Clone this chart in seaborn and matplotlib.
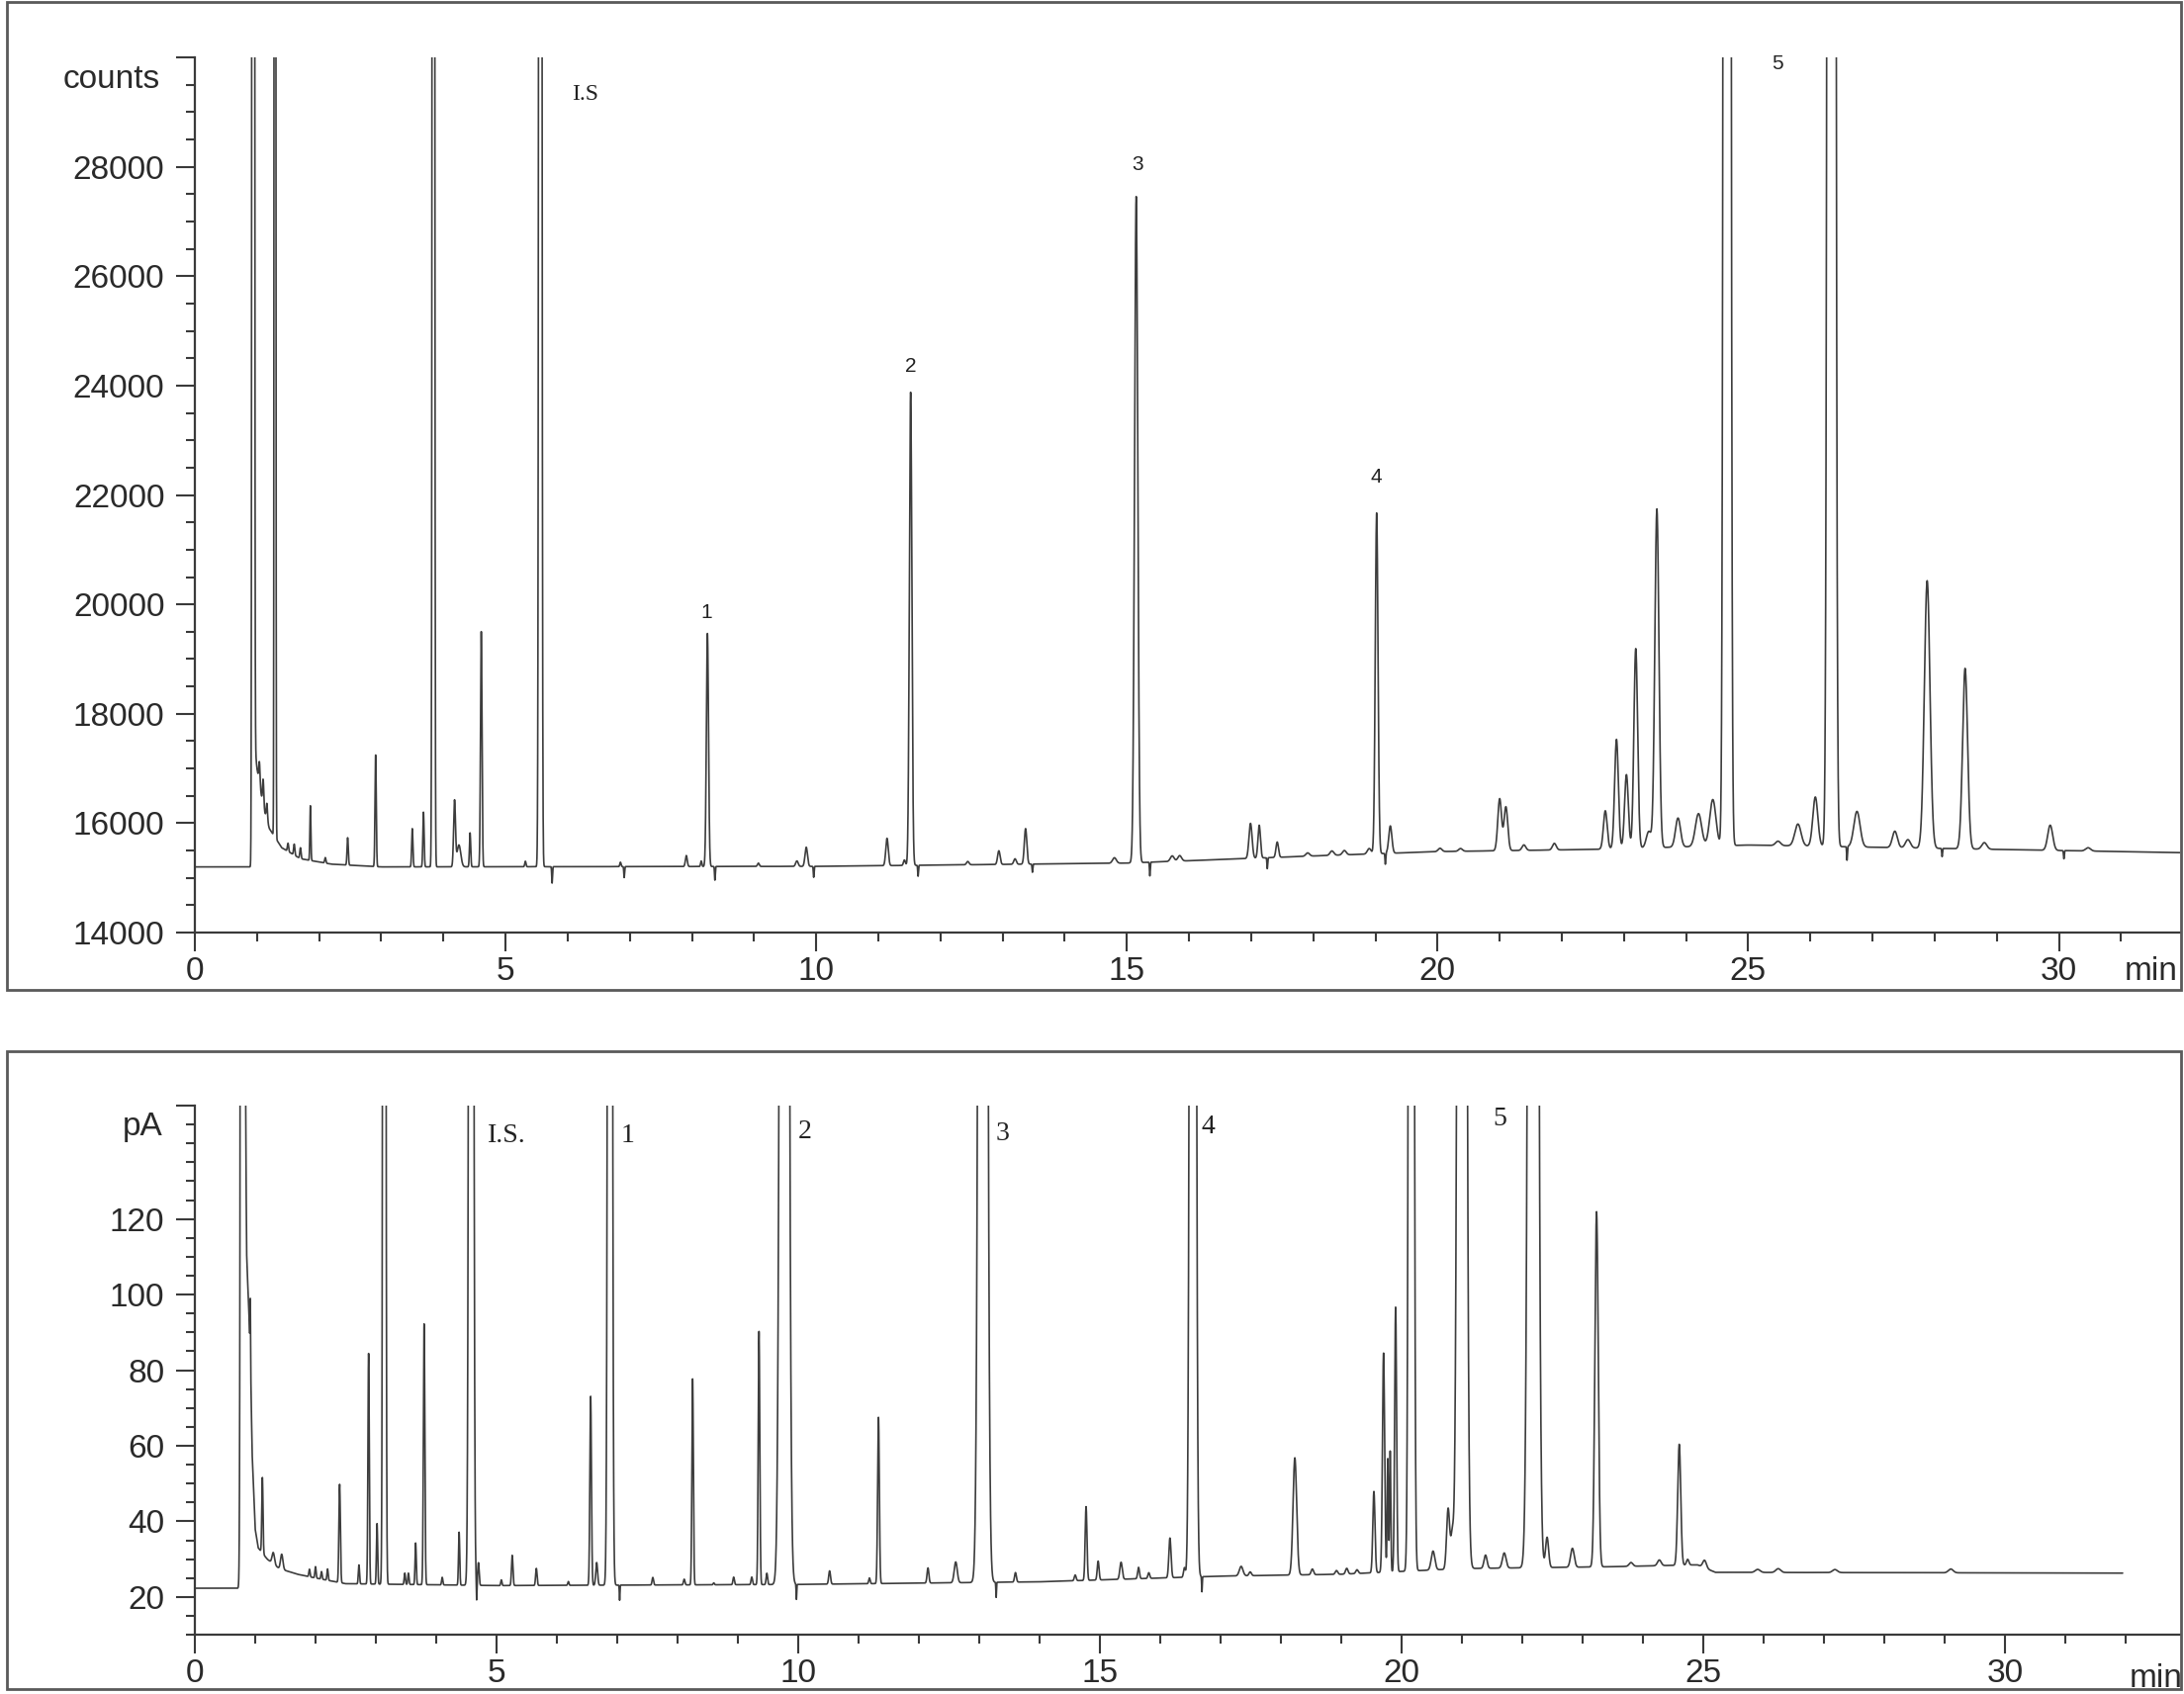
import numpy as np
import pandas as pd
import matplotlib
matplotlib.use("Agg")
import matplotlib.pyplot as plt
import seaborn as sns
from matplotlib.patches import Rectangle
from matplotlib.ticker import MultipleLocator
from matplotlib.transforms import blended_transform_factory

# ---------------- upper chromatogram (counts) ----------------
# baseline knots
top_base_t = [0.0, 0.92, 0.95, 1.0, 1.1, 1.2, 1.4, 1.7, 2.2, 3.0, 10.0, 15.0,
              18.0, 20.0, 22.5, 25.0, 27.0, 30.0, 32.0]
top_base_y = [15200, 15200, 17600, 17000, 16300, 15900, 15550, 15350, 15250,
              15200, 15210, 15270, 15400, 15480, 15520, 15600, 15560, 15500, 15460]

# peaks: retention time (min), height above baseline, width (sigma, min)
top_peak_t = [0.94, 1.04, 1.10, 1.16, 1.29, 1.50, 1.60, 1.70, 1.86, 2.10, 2.46,
              2.91, 3.50, 3.68, 3.84, 4.18, 4.25, 4.43, 4.61, 5.32, 5.56, 5.75,
              6.85, 6.91, 7.91, 8.15, 8.25, 8.37, 9.07, 9.69, 9.84, 9.96, 11.14,
              11.42, 11.52, 11.64, 12.44, 12.94, 13.20, 13.37, 13.48, 14.80,
              15.15, 15.37, 15.73, 15.85, 16.99, 17.13, 17.26, 17.42, 17.91,
              18.30, 18.50, 18.90, 19.02, 19.16, 19.24, 20.04, 20.37, 21.00,
              21.10, 21.39, 21.88, 22.70, 22.88, 23.04, 23.19, 23.40, 23.53,
              23.87, 24.20, 24.43, 24.66, 25.48, 25.80, 26.08, 26.34, 26.59,
              26.75, 27.36, 27.57, 27.88, 28.12, 28.49, 28.80, 29.86, 30.08, 30.47]
top_peak_h = [200000, 400, 500, 300, 100000, 150, 200, 200, 1000, 100, 500,
              2040, 700, 1000, 100000, 1200, 400, 620, 4300, 100, 100000, -300,
              80, -200, 200, 100, 4260, -250, 60, 100, 350, -200, 500,
              100, 8650, -200, 60, 250, 100, 650, -150, 100,
              12180, -250, 100, 100, 640, 600, -200, 280, 60,
              80, 80, 100, 6230, -200, 500, 60, 50, 950,
              800, 100, 120, 700, 2000, 1350, 3650, 300, 6190,
              530, 600, 850, 200000, 80, 400, 900, 200000, -250,
              650, 300, 150, 4890, -150, 3300, 120, 460, -150, 60]
top_peak_w = [0.011, 0.01, 0.01, 0.01, 0.008, 0.01, 0.01, 0.01, 0.008, 0.01, 0.01,
              0.01, 0.01, 0.01, 0.012, 0.015, 0.03, 0.01, 0.012, 0.01, 0.015, 0.006,
              0.01, 0.006, 0.015, 0.01, 0.017, 0.006, 0.015, 0.02, 0.02, 0.006, 0.02,
              0.015, 0.02, 0.006, 0.02, 0.02, 0.02, 0.02, 0.006, 0.03,
              0.026, 0.006, 0.03, 0.03, 0.025, 0.02, 0.006, 0.02, 0.03,
              0.03, 0.03, 0.03, 0.022, 0.006, 0.025, 0.03, 0.03, 0.03,
              0.03, 0.03, 0.03, 0.03, 0.03, 0.03, 0.03, 0.04, 0.033,
              0.04, 0.05, 0.05, 0.03, 0.04, 0.05, 0.04, 0.034, 0.006,
              0.05, 0.04, 0.04, 0.045, 0.006, 0.04, 0.04, 0.04, 0.006, 0.04]

top_labels = ["I.S", "1", "2", "3", "4", "5"]
top_label_t = [6.28, 8.23, 11.52, 15.18, 19.01, 25.47]
top_label_y = [29318, 19852, 24356, 28046, 22320, 29878]

# ---------------- lower chromatogram (pA) ----------------
bot_base_t = [0.0, 0.80, 0.83, 0.86, 0.92, 0.95, 1.0, 1.05, 1.2, 1.4, 1.7, 2.0,
              2.5, 5.0, 10.0, 14.0, 17.0, 19.0, 21.0, 23.5, 24.9, 25.2, 31.95]
bot_base_y = [22.3, 22.3, 160, 110, 85, 58, 38, 33, 30, 27.5, 26, 25,
              23.5, 23, 23.3, 24, 25.5, 26, 27.5, 28, 28.5, 26.5, 26.3]

bot_peak_t = [0.79, 0.92, 1.12, 1.30, 1.44, 1.90, 2.00, 2.10, 2.20, 2.40,
              2.72, 2.88, 3.02, 3.14, 3.48, 3.54, 3.66, 3.80, 4.10, 4.38, 4.58,
              4.67, 4.70, 5.08, 5.26, 5.66, 6.19, 6.56, 6.66, 6.88, 7.04, 7.59,
              8.11, 8.25, 8.60, 8.93, 9.23, 9.35, 9.48, 9.77, 9.97, 10.52, 11.18,
              11.33, 12.15, 12.61, 13.06, 13.28, 13.60, 14.59, 14.77, 14.97,
              15.35, 15.64, 15.81, 16.16, 16.40, 16.54, 16.69, 17.34, 17.49,
              18.23, 18.52, 18.92, 19.09, 19.26, 19.54, 19.70, 19.77, 19.81,
              19.90, 20.16, 20.52, 20.77, 20.84, 21.00, 21.39, 21.70, 22.18,
              22.41, 22.83, 23.23, 23.80, 24.27, 24.60, 24.74, 25.02, 25.90,
              26.24, 27.18, 29.10]
bot_peak_h = [2000, 14, 20, 3, 4, 2, 3, 2, 3, 26,
              5, 61, 16, 1000, 3, 3, 11, 69, 2, 14, 1000,
              -5, 6, 1.5, 8, 4.5, 1, 50, 6, 1000, -4, 2,
              1.5, 54.5, 0.5, 2, 2, 67, 3, 1000, -4, 3.5, 1.5,
              44, 4, 5.5, 1000, -4, 2.5, 1.5, 19.5, 5,
              4.5, 3, 1.5, 10.5, 2.5, 1000, -4, 2.5, 1,
              31, 1.5, 1, 1.5, 1, 21.5, 58, 30, 32,
              70, 1000, 5, 16, 9, 1000, 3.5, 4, 1000,
              8, 5, 94, 1, 1.5, 32, 1.5, 2, 0.8,
              1, 0.8, 1]
bot_peak_w = [0.017, 0.004, 0.01, 0.02, 0.02, 0.01, 0.01, 0.01, 0.01, 0.012,
              0.01, 0.011, 0.01, 0.0155, 0.01, 0.01, 0.01, 0.012, 0.01, 0.01, 0.024,
              0.005, 0.012, 0.01, 0.012, 0.012, 0.01, 0.013, 0.015, 0.023, 0.005, 0.012,
              0.012, 0.012, 0.01, 0.012, 0.012, 0.013, 0.012, 0.045, 0.005, 0.015, 0.012,
              0.014, 0.015, 0.025, 0.045, 0.005, 0.015, 0.015, 0.015, 0.015,
              0.02, 0.015, 0.015, 0.018, 0.015, 0.032, 0.005, 0.03, 0.02,
              0.03, 0.02, 0.02, 0.02, 0.02, 0.018, 0.018, 0.01, 0.01,
              0.016, 0.027, 0.03, 0.025, 0.025, 0.045, 0.025, 0.03, 0.05,
              0.025, 0.03, 0.028, 0.03, 0.03, 0.025, 0.02, 0.03, 0.04,
              0.04, 0.04, 0.04]

bot_labels = ["I.S.", "1", "2", "3", "4", "5"]
bot_label_t = [5.17, 7.18, 10.11, 13.39, 16.80, 21.62]
bot_label_y = [142.1, 142.1, 143.2, 142.5, 144.4, 146.6]


def build_trace(t_end, base_t, base_y, peak_t, peak_h, peak_w):
    """Sum the listed peaks on top of the baseline knots."""
    t = np.arange(0.0, t_end, 0.002)
    y = np.interp(t, base_t, base_y)
    for c, h, w in zip(peak_t, peak_h, peak_w):
        y = y + h * np.exp(-0.5 * ((t - c) / w) ** 2)
    return pd.DataFrame({"time": t, "signal": y})


def style_axes(ax, line_col):
    sns.despine(ax=ax)
    for side in ["left", "bottom"]:
        ax.spines[side].set_linewidth(1.6)
        ax.spines[side].set_color(line_col)
    ax.xaxis.set_major_locator(MultipleLocator(5))
    ax.xaxis.set_minor_locator(MultipleLocator(1))
    ax.tick_params(which="major", length=14, width=1.5, colors=line_col,
                   labelsize=24, labelcolor="#2a2a2a")
    ax.tick_params(which="minor", length=6.5, width=1.5, colors=line_col)
    ax.tick_params(axis="x", which="major", pad=3)
    ax.tick_params(axis="y", which="major", pad=8)
    ax.set_xlabel("")
    ax.set_ylabel("")
    ax.set_facecolor("white")


sns.set_style("ticks")
plt.rcParams["font.family"] = ["Liberation Sans", "DejaVu Sans"]

trace_col = "#3d3d3d"
axis_col = "#3a3a3a"
serif = ["Liberation Serif", "DejaVu Serif"]

fig = plt.figure(figsize=(22.08, 17.13), dpi=100)
fig.patch.set_facecolor("white")

# scanned-page frames around each chromatogram
fig.patches.append(Rectangle((0.0032, 0.4156), 0.9955, 0.5832, transform=fig.transFigure,
                             fill=False, edgecolor="#5a5a5a", linewidth=2.0))
fig.patches.append(Rectangle((0.0032, 0.0029), 0.9955, 0.3765, transform=fig.transFigure,
                             fill=False, edgecolor="#5a5a5a", linewidth=2.0))

# ---- top panel ----
ax1 = fig.add_axes([0.0892, 0.4495, 0.909, 0.5166])
top_df = build_trace(32.0, top_base_t, top_base_y, top_peak_t, top_peak_h, top_peak_w)
sns.lineplot(data=top_df, x="time", y="signal", ax=ax1, color=trace_col,
             linewidth=1.2, estimator=None, sort=False)
ax1.set_xlim(0, 31.95)
ax1.set_ylim(14000, 30000)
style_axes(ax1, axis_col)
ax1.set_yticks(list(range(14000, 30001, 2000)))
ax1.set_yticklabels([str(v) for v in range(14000, 30000, 2000)] + [""])
ax1.yaxis.set_minor_locator(MultipleLocator(500))
trans1 = blended_transform_factory(ax1.transAxes, ax1.transData)
ax1.text(-0.0175, 29600, "counts", transform=trans1, ha="right", va="center",
         fontsize=24, color="#2a2a2a")
for lab, lt, ly in zip(top_labels, top_label_t, top_label_y):
    if lab == "I.S":
        ax1.text(lt, ly, lab, ha="center", va="center", fontsize=17,
                 family=serif, color="#222222")
    else:
        ax1.text(lt, ly, lab, ha="center", va="center", fontsize=15, color="#222222")
fig.text(2175 / 2208, 1 - 983 / 1713, "min", ha="center", va="center",
         fontsize=24, color="#2a2a2a")

# ---- bottom panel ----
ax2 = fig.add_axes([0.0892, 0.035, 0.909, 0.3123])
bot_df = build_trace(31.95, bot_base_t, bot_base_y, bot_peak_t, bot_peak_h, bot_peak_w)
sns.lineplot(data=bot_df, x="time", y="signal", ax=ax2, color=trace_col,
             linewidth=1.2, estimator=None, sort=False)
ax2.set_xlim(0, 32.9)
ax2.set_ylim(10, 150)
style_axes(ax2, axis_col)
ax2.set_xticks(list(range(0, 33, 5)))
ax2.set_xticks(list(range(0, 33, 1)), minor=True)
ax2.set_yticks(list(range(20, 121, 20)) + [150])
ax2.set_yticklabels([str(v) for v in range(20, 121, 20)] + [""])
ax2.yaxis.set_minor_locator(MultipleLocator(5))
trans2 = blended_transform_factory(ax2.transAxes, ax2.transData)
ax2.text(-0.016, 144.3, "pA", transform=trans2, ha="right", va="center",
         fontsize=24, color="#2a2a2a")
for lab, lt, ly in zip(bot_labels, bot_label_t, bot_label_y):
    ax2.text(lt, ly, lab, ha="center", va="center", fontsize=20,
             family=serif, color="#222222")
fig.text(2180 / 2208, 1 - 1697 / 1713, "min", ha="center", va="center",
         fontsize=24, color="#2a2a2a")

fig.savefig("out.png", dpi=100, facecolor="white")
